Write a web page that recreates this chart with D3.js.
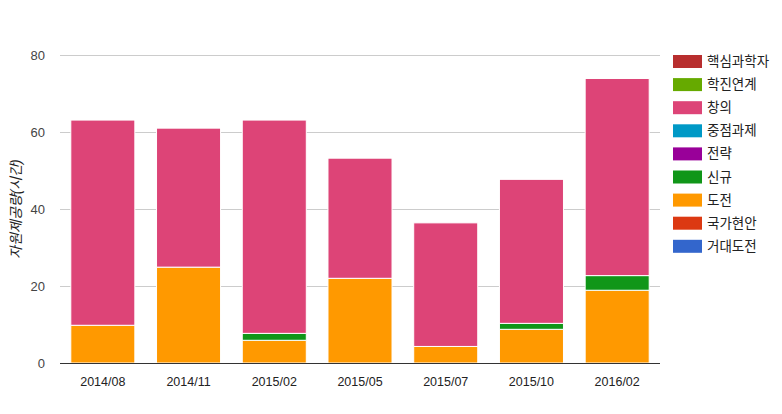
<!DOCTYPE html>
<html><head><meta charset="utf-8">
<script src="https://cdn.jsdelivr.net/npm/d3@7/dist/d3.min.js"></script>
<style>body{margin:0;background:#fff}svg{display:block}</style>
</head><body><svg id="c" width="782" height="414"></svg>
<script>
const categories = ["2014/08","2014/11","2015/02","2015/05","2015/07","2015/10","2016/02"];
const seriesNames = ["거대도전","국가현안","도전","신규","전략","중점과제","창의","학진연계","핵심과학자"];
const seriesColors = ["#3366cc","#dc3912","#ff9900","#109618","#990099","#0099c6","#dd4477","#66aa00","#b82e2e"];
const v거대도전 = [0,0,0,0,0,0,0];
const v국가현안 = [0,0,0,0,0,0,0];
const v도전 = [9.8,24.9,5.9,22.0,4.3,8.75,18.9];
const v신규 = [0,0,1.8,0,0,1.55,3.8];
const v전략 = [0,0,0,0,0,0,0];
const v중점과제 = [0,0,0,0,0,0,0];
const v창의 = [53.3,36.1,55.4,31.2,32.1,37.4,51.2];
const v학진연계 = [0,0,0,0,0,0,0];
const v핵심과학자 = [0,0,0,0,0,0,0];
const seriesValues = [v거대도전,v국가현안,v도전,v신규,v전략,v중점과제,v창의,v학진연계,v핵심과학자];
const yTicks = [0,20,40,60,80];
const yTitle = "자원제공량(시간)";

const svg = d3.select("#c");
const font = "Arial, 'Liberation Sans', 'Noto Sans CJK KR', sans-serif";
const x = d3.scaleBand().domain(categories).range([60,660]).paddingInner(0.253).paddingOuter(0.126);
const y = d3.scaleLinear().domain([0,80]).range([363,55]);

svg.append("g").selectAll("line").data(yTicks.filter(d=>d!==0)).join("line")
  .attr("x1",60).attr("x2",660).attr("y1",d=>y(d)+0.5).attr("y2",d=>y(d)+0.5)
  .attr("stroke","#cccccc").attr("stroke-width",1);

const rows = categories.map((c,i)=>{const o={cat:c}; seriesNames.forEach((s,j)=>o[s]=seriesValues[j][i]); return o;});
const stack = d3.stack().keys(seriesNames)(rows);
const color = d3.scaleOrdinal().domain(seriesNames).range(seriesColors);

svg.append("g").selectAll("g").data(stack).join("g").attr("fill",d=>color(d.key))
  .selectAll("rect").data(d=>d.filter(p=>p[1]-p[0]>0)).join("rect")
  .attr("x",d=>x(d.data.cat)).attr("width",x.bandwidth())
  .attr("y",d=>y(d[1])).attr("height",d=>y(d[0])-y(d[1]))
  .attr("stroke","#ffffff").attr("stroke-width",1);

svg.append("line").attr("x1",60).attr("x2",660).attr("y1",y(0)+0.5).attr("y2",y(0)+0.5).attr("stroke","#333333");

svg.append("g").selectAll("text").data(yTicks).join("text")
  .attr("x",45).attr("y",d=>y(d)+4.5).attr("text-anchor","end")
  .attr("font-family",font).attr("font-size",13).attr("fill","#444444").text(d=>d);

svg.append("g").selectAll("text").data(categories).join("text")
  .attr("x",d=>x(d)+x.bandwidth()/2).attr("y",386).attr("text-anchor","middle")
  .attr("font-family",font).attr("font-size",12.5).attr("fill","#222222").text(d=>d);

svg.append("text").attr("transform",`translate(21,${(55+363)/2}) rotate(-90)`)
  .attr("text-anchor","middle").attr("font-family",font).attr("font-size",14)
  .attr("font-style","italic").attr("fill","#222222").text(yTitle);

const legendItems = seriesNames.map((s,i)=>({name:s,color:seriesColors[i]})).reverse();
const lg = svg.append("g").selectAll("g").data(legendItems).join("g")
  .attr("transform",(d,i)=>`translate(673,${55+i*23.1})`);
lg.append("rect").attr("width",29).attr("height",13).attr("fill",d=>d.color);
lg.append("text").attr("x",34).attr("y",11).attr("font-family",font).attr("font-size",13.5)
  .attr("fill","#222222").text(d=>d.name);
</script></body></html>
